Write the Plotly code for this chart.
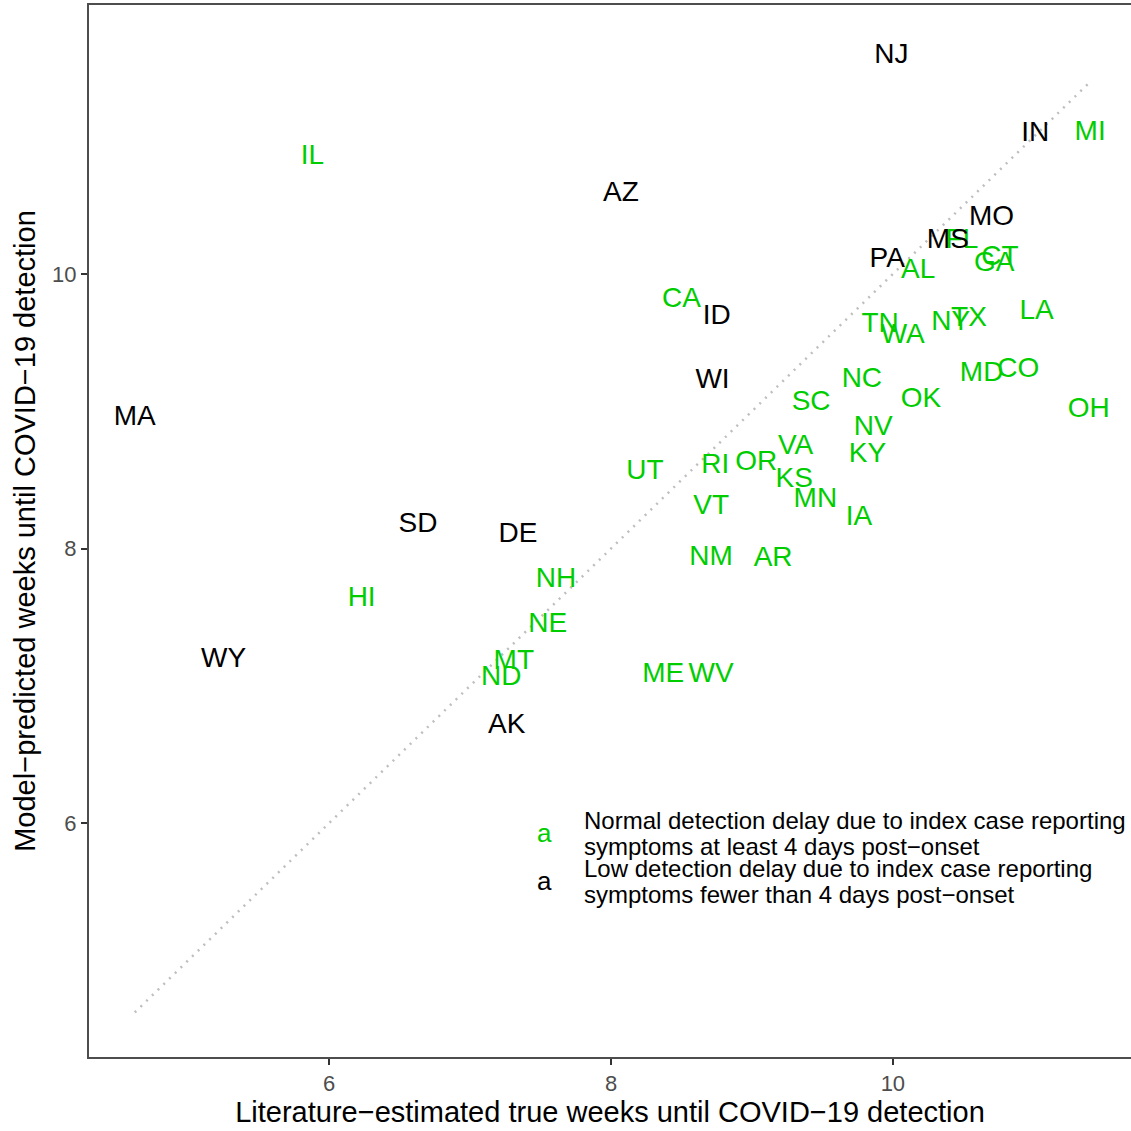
import plotly.graph_objects as go

states = ["NJ","IN","MI","IL","AZ","MO","MS","FL","CT","GA","PA","AL","CA","ID","TN","WA","NY","TX","LA","WI",
          "NC","MD","CO","OK","SC","OH","MA","NV","VA","KY","RI","OR","UT","KS","MN","VT","IA","SD","DE","NM",
          "AR","NH","HI","NE","WY","MT","ME","WV","ND","AK"]
lit_weeks = [9.99,11.01,11.40,5.88,8.07,10.70,10.39,10.49,10.76,10.72,9.96,10.18,8.50,8.75,9.91,10.07,10.41,10.54,11.02,8.72,
             9.78,10.63,10.89,10.20,9.42,11.39,4.62,9.86,9.31,9.82,8.74,9.03,8.24,9.30,9.45,8.71,9.76,6.63,7.34,8.71,
             9.15,7.61,6.23,7.55,5.25,7.31,8.37,8.71,7.22,7.26]
model_weeks = [11.59,11.02,11.03,10.85,10.58,10.41,10.24,10.24,10.12,10.07,10.10,10.02,9.81,9.69,9.63,9.55,9.64,9.67,9.72,9.22,
               9.23,9.27,9.30,9.08,9.06,9.01,8.95,8.88,8.74,8.68,8.60,8.62,8.56,8.50,8.35,8.30,8.22,8.17,8.10,7.93,
               7.92,7.77,7.63,7.44,7.19,7.17,7.08,7.08,7.06,6.71]
low_delay = {"NJ","IN","AZ","MO","MS","PA","ID","WI","MA","SD","DE","WY","AK"}

GREEN = "#00CD00"
FONT = "Liberation Sans, Arial, sans-serif"

fig = go.Figure()
xmin, xmax = min(lit_weeks), max(lit_weeks)
fig.add_trace(go.Scatter(x=[xmin, xmax], y=[xmin, xmax], mode="lines",
                         line=dict(color="#BEBEBE", dash="2px,6px", width=2.5), showlegend=False, hoverinfo="skip"))

for is_low, color in [(False, GREEN), (True, "black")]:
    idx = [i for i, s in enumerate(states) if (s in low_delay) == is_low]
    fig.add_trace(go.Scatter(x=[lit_weeks[i] for i in idx], y=[model_weeks[i] for i in idx],
                             text=[states[i] for i in idx], mode="text",
                             textfont=dict(color=color, size=28, family=FONT),
                             textposition="middle center", showlegend=False))

legend_items = [(["Normal detection delay due to index case reporting", "symptoms at least 4 days post\u2212onset"], GREEN, 833),
                (["Low detection delay due to index case reporting", "symptoms fewer than 4 days post\u2212onset"], "black", 881)]
plot_top, plot_bot, plot_left, plot_right = 5, 1057, 89, 1131
def py(p):
    return (plot_bot - p) / (plot_bot - plot_top)
def px(p):
    return (p - plot_left) / (plot_right - plot_left)
for lines, col, yc in legend_items:
    fig.add_annotation(x=px(544), y=py(yc), xref="paper", yref="paper", text="a", showarrow=False,
                       font=dict(color=col, size=26, family=FONT), xanchor="center", yanchor="middle")
    for k, ln in enumerate(lines):
        fig.add_annotation(x=px(582), y=py(yc - 13 + 26 * k), xref="paper", yref="paper", text=ln, showarrow=False,
                           align="left", font=dict(color="black", size=24, family=FONT),
                           xanchor="left", yanchor="middle")

axis_common = dict(showgrid=False, zeroline=False, showline=True, linecolor="#4D4D4D", linewidth=2, mirror=True,
                   ticks="outside", ticklen=6, tickwidth=2, tickcolor="#333333", automargin=False,
                   tickfont=dict(size=22, color="#4D4D4D", family=FONT))
fig.update_xaxes(range=[4.295, 11.69], tickvals=[6, 8, 10],
                 title=dict(text="Literature\u2212estimated true weeks until COVID\u221219 detection",
                            font=dict(size=29, color="black", family=FONT), standoff=6), **axis_common)
fig.update_yaxes(range=[4.295, 11.96], tickvals=[6, 8, 10],
                 title=dict(text="Model\u2212predicted weeks until COVID\u221219 detection",
                            font=dict(size=29, color="black", family=FONT), standoff=8), **axis_common)
fig.update_layout(width=1131, height=1131, margin=dict(l=plot_left, r=0, t=plot_top, b=1131 - plot_bot),
                  plot_bgcolor="white", paper_bgcolor="white", font=dict(family=FONT))
fig.write_html("out.html", config={"displayModeBar": False},
               post_script="document.body.style.margin='0px';document.body.style.overflow='hidden';")
